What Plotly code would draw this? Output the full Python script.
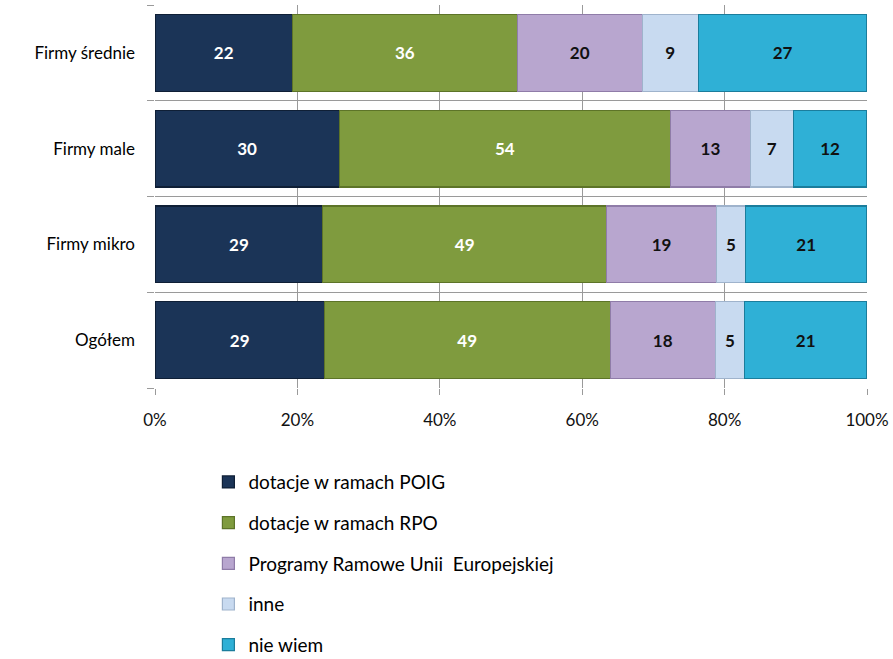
import plotly.graph_objects as go

# Company size groups (bottom to top on the chart)
categories = ["Ogółem", "Firmy mikro", "Firmy male", "Firmy średnie"]

series_names = [
    "dotacje w ramach POIG",
    "dotacje w ramach RPO",
    "Programy Ramowe Unii \u00a0Europejskiej",
    "inne",
    "nie wiem",
]

poig = [29, 29, 30, 22]
rpo = [49, 49, 54, 36]
ramowe = [18, 19, 13, 20]
inne = [5, 5, 7, 9]
nie_wiem = [21, 21, 12, 27]

series_values = [poig, rpo, ramowe, inne, nie_wiem]

tick_vals = [0, 20, 40, 60, 80, 100]
tick_text = ["0%", "20%", "40%", "60%", "80%", "100%"]

colors = ["#1b3457", "#7f9b3e", "#b8a6cf", "#c8daf0", "#2fb0d6"]
edge_colors = ["#0f1f36", "#5d7428", "#8f7ca8", "#9fb3cc", "#1b7d9c"]
text_colors = ["white", "white", "#111111", "#111111", "#111111"]

fig = go.Figure()
for name, vals, col, edge, tcol in zip(series_names, series_values, colors, edge_colors, text_colors):
    fig.add_trace(go.Bar(
        y=categories,
        x=vals,
        name=name,
        orientation="h",
        legendgroup=name,
        marker=dict(color=col, line=dict(color=edge, width=1.2)),
        text=vals,
        texttemplate="%{text}",
        textposition="inside",
        insidetextanchor="middle",
        textangle=0,
        textfont=dict(family="Lato", size=17, color=tcol, weight="bold"),
        hoverinfo="skip",
    ))

fig.update_layout(
    width=893,
    height=659,
    barmode="stack",
    barnorm="percent",
    bargap=0.2,
    plot_bgcolor="white",
    paper_bgcolor="white",
    margin=dict(l=155, r=26, t=5, b=271, autoexpand=False),
    font=dict(family="Lato", size=15, color="#111111"),
    xaxis=dict(
        range=[0, 100],
        tickvals=tick_vals,
        ticktext=tick_text,
        showgrid=True,
        gridcolor="#9a9a9a",
        gridwidth=1,
        zeroline=False,
        ticks="outside",
        ticklen=6,
        tickcolor="#9a9a9a",
        ticklabelstandoff=11,
        tickfont=dict(size=17, color="#111111"),
        fixedrange=True,
    ),
    yaxis=dict(
        tickson="boundaries",
        showgrid=True,
        gridcolor="#9a9a9a",
        gridwidth=1,
        ticks="outside",
        ticklen=7,
        tickcolor="#9a9a9a",
        ticklabelstandoff=19,
        tickfont=dict(size=17, color="#000000"),
        fixedrange=True,
    ),
    legend=dict(
        x=0.075,
        y=-0.196,
        xanchor="left",
        yanchor="top",
        traceorder="grouped",
        tracegroupgap=13,
        itemwidth=30,
        font=dict(family="Lato", size=19, color="#000000"),
        bgcolor="rgba(0,0,0,0)",
    ),
    showlegend=True,
)

fig.write_html("out.html")
